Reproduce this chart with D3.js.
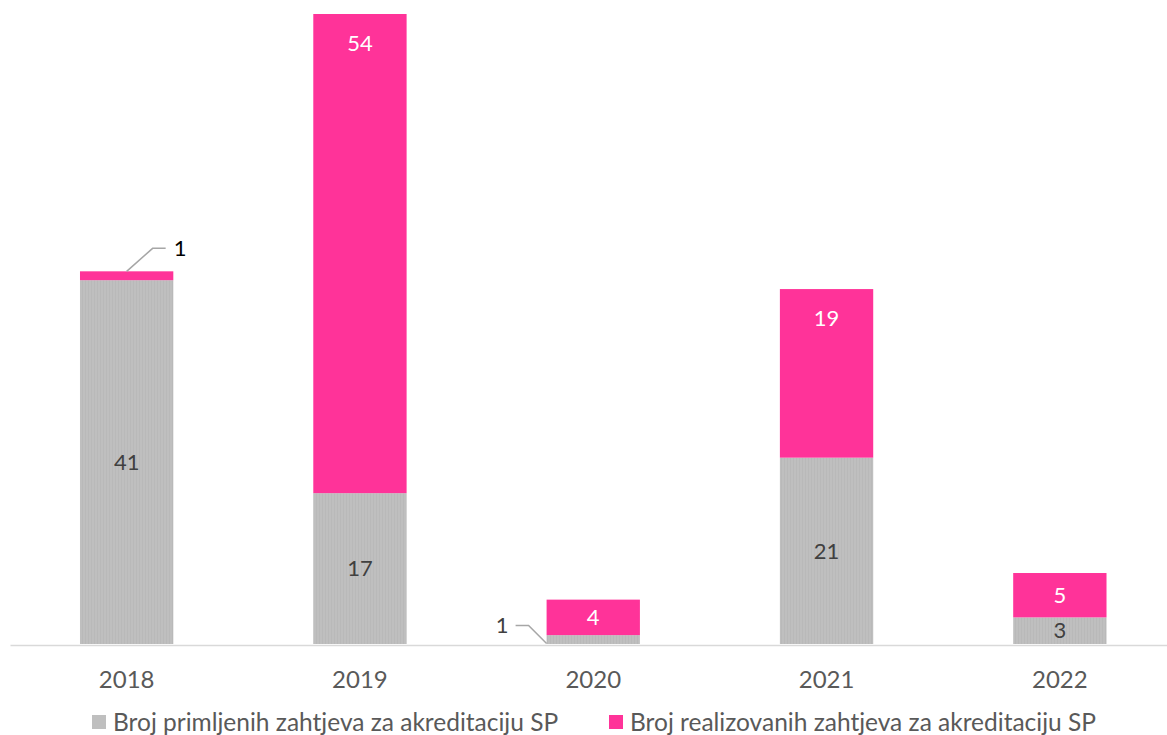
<!DOCTYPE html>
<html>
<head>
<meta charset="utf-8">
<script src="https://cdn.jsdelivr.net/npm/d3@7"></script>
<style>
  html, body { margin: 0; padding: 0; background: #fff; }
  svg { display: block; }
  text { font-family: Lato, "Open Sans", sans-serif; }
</style>
</head>
<body>
<svg id="chart" width="1167" height="735"></svg>
<script>
const categories = ["2018", "2019", "2020", "2021", "2022"];
const seriesNames = ["Broj primljenih zahtjeva za akreditaciju SP", "Broj realizovanih zahtjeva za akreditaciju SP"];
const received = [41, 17, 1, 21, 3];
const realized = [1, 54, 4, 19, 5];
const colors = ["#bfbfbf", "#ff3399"];

const W = 1167, H = 735;
const svg = d3.select("#chart");
const FONT = "Lato, 'Open Sans', sans-serif";

const defs = svg.append("defs");
const pat = defs.append("pattern").attr("id", "grayTex").attr("patternUnits", "userSpaceOnUse")
  .attr("width", 3).attr("height", 3);
pat.append("rect").attr("width", 3).attr("height", 3).attr("fill", "#bfbfbf");
pat.append("rect").attr("x", 1).attr("width", 1).attr("height", 3).attr("fill", "#b9b9b9");

const x = d3.scaleBand().domain(categories).range([10, 1176.5]).paddingInner(0.6).paddingOuter(0.3);
const y = d3.scaleLinear().domain([0, 71]).range([644, 14]);

const rows = categories.map((c, i) => ({ cat: c, received: received[i], realized: realized[i] }));
const stack = d3.stack().keys(["received", "realized"])(rows);

const g = svg.append("g");
stack.forEach((layer, li) => {
  g.selectAll(null).data(layer).enter().append("rect")
    .attr("x", d => x(d.data.cat))
    .attr("y", d => y(d[1]))
    .attr("width", x.bandwidth())
    .attr("height", d => y(d[0]) - y(d[1]))
    .attr("fill", li === 0 ? "url(#grayTex)" : colors[1]);
});

// axis
const axis = svg.append("g").attr("transform", "translate(0,645)")
  .call(d3.axisBottom(x).tickSize(0).tickPadding(26));
axis.select(".domain").attr("stroke", "#d9d9d9").attr("stroke-width", 1.5);
axis.selectAll(".tick text").attr("font-size", 24).attr("fill", "#595959")
  .attr("font-family", FONT);

// data labels
const LS = 22;
stack.forEach((layer, li) => {
  layer.forEach((d, i) => {
    const v = d[1] - d[0];
    const cx = x(d.data.cat) + x.bandwidth() / 2;
    const center = (y(d[0]) + y(d[1])) / 2;
    if (v >= 2) {
      const cy = li === 0 ? center : Math.min(center, y(d[1]) + 29);
      svg.append("text").attr("x", cx).attr("y", cy).attr("dy", "0.35em")
        .attr("text-anchor", "middle").attr("font-size", LS)
        .attr("fill", li === 0 ? "#404040" : "#ffffff").text(v);
    }
  });
});

// leader-line labels for small segments
// 2018 realized (1)
{
  const d = stack[1][0];
  const cx = x(d.data.cat) + x.bandwidth() / 2;
  const top = y(d[1]);
  svg.append("path").attr("d", `M${cx},${top} L${cx + 26},${top - 23} L${cx + 39},${top - 23}`)
    .attr("fill", "none").attr("stroke", "#a6a6a6").attr("stroke-width", 1.5);
  svg.append("text").attr("x", cx + 47).attr("y", top - 23).attr("dy", "0.35em")
    .attr("font-size", LS).attr("fill", "#000").text(d[1] - d[0]);
}
// 2020 received (1)
{
  const d = stack[0][2];
  const left = x(d.data.cat);
  const cy = (y(d[0]) + y(d[1])) / 2;
  svg.append("path").attr("d", `M${left},${cy + 4} L${left - 18},${cy - 14} L${left - 31},${cy - 14}`)
    .attr("fill", "none").attr("stroke", "#a6a6a6").attr("stroke-width", 1.5);
  svg.append("text").attr("x", left - 38).attr("y", cy - 14).attr("dy", "0.35em")
    .attr("text-anchor", "end").attr("font-size", LS).attr("fill", "#404040").text(d[1] - d[0]);
}

// legend
const legend = svg.append("g").attr("transform", "translate(0,722)");
const items = [{ name: seriesNames[0], color: colors[0], x: 92 }, { name: seriesNames[1], color: colors[1], x: 609 }];
items.forEach(it => {
  legend.append("rect").attr("x", it.x).attr("y", -7).attr("width", 14).attr("height", 14).attr("fill", it.color);
  legend.append("text").attr("x", it.x + 21).attr("y", 0).attr("dy", "0.35em")
    .attr("font-size", 24.5).attr("fill", "#595959").text(it.name);
});
</script>
</body>
</html>
